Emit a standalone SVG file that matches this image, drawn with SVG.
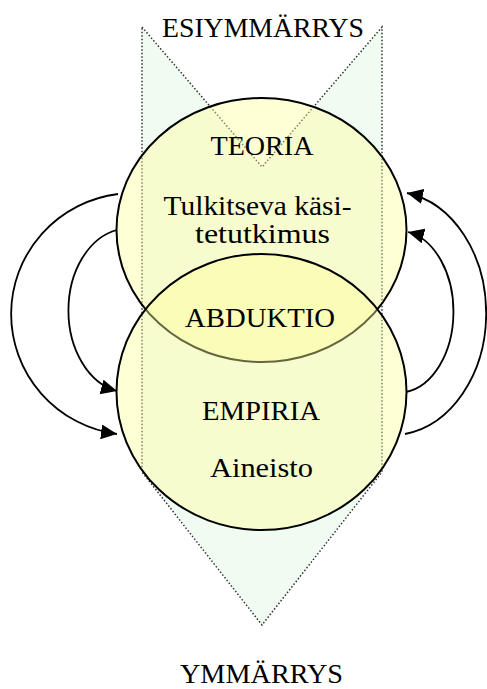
<svg xmlns="http://www.w3.org/2000/svg" width="487" height="689" viewBox="0 0 487 689">
<style>
.lbl{font-family:"Liberation Serif","Times New Roman",serif;font-size:28px;fill:#000;text-anchor:middle}
.circ{fill:#ffff99;fill-opacity:0.4;stroke:#000;stroke-width:2}
.funnel{fill:#f0fbf2;stroke:#333;stroke-width:1.5;stroke-dasharray:1.5 2}
.arr{fill:none;stroke:#000;stroke-width:1.8;marker-end:url(#ah)}
</style>
<defs>
<marker id="ah" markerUnits="userSpaceOnUse" markerWidth="18" markerHeight="16" refX="16" refY="7.5" orient="auto">
<path d="M0,0 L16,7.5 L0,15 Z" fill="#000"/>
</marker>
</defs>
<rect width="487" height="689" fill="#fff"/>
<g id="funnel">
<path class="funnel" d="M142,27 L262,167 L382,27 L382,472 L262,625 L142,472 Z"/>
</g>
<g id="teoria">
<ellipse class="circ" cx="261.5" cy="230" rx="145" ry="132"/>
</g>
<g id="empiria">
<ellipse class="circ" cx="261.5" cy="392" rx="145" ry="138"/>
</g>
<g id="labels">
<text class="lbl" x="263" y="37" textLength="202" lengthAdjust="spacingAndGlyphs">ESIYMMÄRRYS</text>
<text class="lbl" x="262" y="155" textLength="103" lengthAdjust="spacingAndGlyphs">TEORIA</text>
<text class="lbl" x="257.5" y="215" textLength="188" lengthAdjust="spacingAndGlyphs">Tulkitseva käsi-</text>
<text class="lbl" x="262.5" y="243" textLength="135" lengthAdjust="spacingAndGlyphs">tetutkimus</text>
<text class="lbl" x="260" y="327" textLength="150" lengthAdjust="spacingAndGlyphs">ABDUKTIO</text>
<text class="lbl" x="261" y="420" textLength="118" lengthAdjust="spacingAndGlyphs">EMPIRIA</text>
<text class="lbl" x="261.5" y="477" textLength="103" lengthAdjust="spacingAndGlyphs">Aineisto</text>
<text class="lbl" x="261.5" y="683" textLength="163" lengthAdjust="spacingAndGlyphs">YMMÄRRYS</text>
</g>
<g id="connectors">
<path class="arr" d="M118,194 A122,121 0 0 0 117,434"/>
<path class="arr" d="M117,230 A60,82 0 0 0 117,391"/>
<path class="arr" d="M405,434 A95,122 0 0 0 407,193"/>
<path class="arr" d="M406,392 A55,81 0 0 0 408,232"/>
</g>
</svg>
